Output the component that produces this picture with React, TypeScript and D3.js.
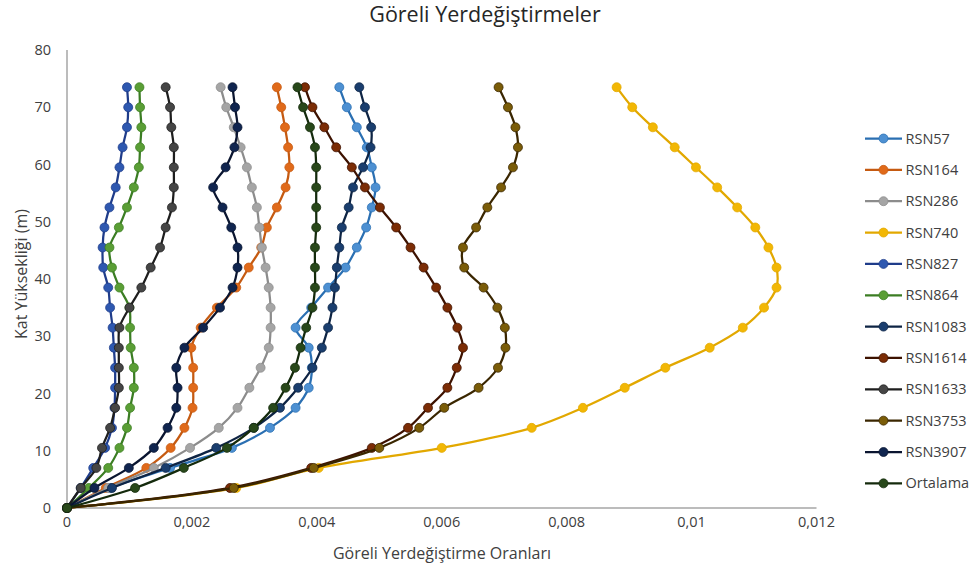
import React, { useEffect, useRef } from 'react';
import * as d3 from 'd3';

const heights = [0, 3.5, 7, 10.5, 14, 17.5, 21, 24.5, 28, 31.5, 35, 38.5, 42, 45.5, 49, 52.5, 56, 59.5, 63, 66.5, 70, 73.5];

const seriesNames = ['RSN57', 'RSN164', 'RSN286', 'RSN740', 'RSN827', 'RSN864', 'RSN1083', 'RSN1614', 'RSN1633', 'RSN3753', 'RSN3907', 'Ortalama'];

const rsn57 = [0, 0.00069, 0.00165, 0.00264, 0.00325, 0.00366, 0.00387, 0.00392, 0.00387, 0.00366, 0.00391, 0.00418, 0.00446, 0.00464, 0.00479, 0.00488, 0.00494, 0.00488, 0.00480, 0.00464, 0.00448, 0.00436];
const rsn164 = [0, 0.00062, 0.00127, 0.00166, 0.00188, 0.00201, 0.00202, 0.00202, 0.00199, 0.00214, 0.00240, 0.00271, 0.00291, 0.00311, 0.00320, 0.00336, 0.00350, 0.00356, 0.00354, 0.00349, 0.00343, 0.00336];
const rsn286 = [0, 0.00066, 0.00139, 0.00197, 0.00243, 0.00273, 0.00292, 0.00310, 0.00323, 0.00326, 0.00326, 0.00323, 0.00318, 0.00312, 0.00308, 0.00304, 0.00296, 0.00288, 0.00278, 0.00267, 0.00255, 0.00246];
const rsn740 = [0, 0.00271, 0.00403, 0.00600, 0.00744, 0.00826, 0.00893, 0.00958, 0.01029, 0.01082, 0.01116, 0.01136, 0.01136, 0.01123, 0.01102, 0.01073, 0.01041, 0.01007, 0.00973, 0.00938, 0.00905, 0.00880];
const rsn827 = [0, 0.00022, 0.00042, 0.00061, 0.00072, 0.00076, 0.00077, 0.00077, 0.00075, 0.00073, 0.00069, 0.00066, 0.00058, 0.00057, 0.00060, 0.00068, 0.00078, 0.00084, 0.00089, 0.00096, 0.00098, 0.00096];
const rsn864 = [0, 0.00035, 0.00066, 0.00084, 0.00096, 0.00101, 0.00107, 0.00107, 0.00102, 0.00101, 0.00100, 0.00084, 0.00072, 0.00068, 0.00083, 0.00096, 0.00107, 0.00115, 0.00117, 0.00119, 0.00117, 0.00116];
const rsn1083 = [0, 0.00072, 0.00158, 0.00239, 0.00299, 0.00341, 0.00370, 0.00393, 0.00408, 0.00418, 0.00425, 0.00429, 0.00432, 0.00436, 0.00440, 0.00451, 0.00458, 0.00474, 0.00486, 0.00487, 0.00477, 0.00468];
const rsn1614 = [0, 0.00261, 0.00391, 0.00488, 0.00546, 0.00578, 0.00609, 0.00624, 0.00634, 0.00625, 0.00609, 0.00591, 0.00571, 0.00550, 0.00527, 0.00501, 0.00477, 0.00456, 0.00431, 0.00412, 0.00393, 0.00381];
const rsn1633 = [0, 0.00022, 0.00047, 0.00056, 0.00069, 0.00077, 0.00083, 0.00083, 0.00083, 0.00084, 0.00100, 0.00119, 0.00134, 0.00149, 0.00158, 0.00168, 0.00171, 0.00171, 0.00171, 0.00167, 0.00165, 0.00158];
const rsn3753 = [0, 0.00267, 0.00395, 0.00500, 0.00564, 0.00604, 0.00659, 0.00690, 0.00702, 0.00701, 0.00689, 0.00667, 0.00636, 0.00634, 0.00655, 0.00673, 0.00695, 0.00714, 0.00722, 0.00718, 0.00706, 0.00691];
const rsn3907 = [0, 0.00044, 0.00099, 0.00139, 0.00161, 0.00175, 0.00177, 0.00175, 0.00188, 0.00218, 0.00245, 0.00265, 0.00273, 0.00273, 0.00263, 0.00249, 0.00234, 0.00254, 0.00268, 0.00273, 0.00269, 0.00265];
const ortalama = [0, 0.00109, 0.00187, 0.00256, 0.00299, 0.00330, 0.00350, 0.00365, 0.00374, 0.00383, 0.00393, 0.00397, 0.00397, 0.00397, 0.00399, 0.00399, 0.00399, 0.00399, 0.00397, 0.00389, 0.00378, 0.00369];

const seriesValues = [rsn57, rsn164, rsn286, rsn740, rsn827, rsn864, rsn1083, rsn1614, rsn1633, rsn3753, rsn3907, ortalama];

const lineColors = ['#2a6fb2', '#c55a11', '#8c8c8c', '#e2a800', '#1f3c8a', '#3b7d23', '#0e2444', '#3d1200', '#1e1e1e', '#3a2600', '#0a1530', '#142a0c'];
const markerColors = ['#4d90d2', '#e06a1a', '#a5a5a5', '#f2b705', '#2e58b0', '#5a9e35', '#1a3e6e', '#7b2c05', '#454545', '#7a5c08', '#10254f', '#28481a'];

const xTicks = [0, 0.002, 0.004, 0.006, 0.008, 0.01, 0.012];
const xTickLabels = ['0', '0,002', '0,004', '0,006', '0,008', '0,01', '0,012'];
const yTicks = [0, 10, 20, 30, 40, 50, 60, 70, 80];

const titleText = 'Göreli Yerdeğiştirmeler';
const xTitle = 'Göreli Yerdeğiştirme Oranları';
const yTitle = 'Kat Yüksekliği (m)';

export default function App() {
  const ref = useRef<SVGSVGElement>(null);

  useEffect(() => {
    const svg = d3.select(ref.current);
    svg.selectAll('*').remove();
    const font = "'Open Sans', 'DejaVu Sans', sans-serif";

    const x = d3.scaleLinear().domain([0, 0.012]).range([67, 816.5]);
    const y = d3.scaleLinear().domain([0, 80]).range([508, 50]);

    svg.append('rect').attr('width', 974).attr('height', 574).attr('fill', '#ffffff');

    // title
    svg.append('text')
      .attr('x', 485).attr('y', 22)
      .attr('text-anchor', 'middle')
      .attr('font-family', font).attr('font-size', 21.5)
      .attr('fill', '#262626')
      .text(titleText);

    // axes lines
    svg.append('line')
      .attr('x1', x(0)).attr('x2', x(0))
      .attr('y1', y(80)).attr('y2', y(0))
      .attr('stroke', '#a6a6a6').attr('stroke-width', 1.5);
    svg.append('line')
      .attr('x1', x(0)).attr('x2', x(0.012))
      .attr('y1', y(0)).attr('y2', y(0))
      .attr('stroke', '#a6a6a6').attr('stroke-width', 1.5);

    // y tick labels
    svg.append('g').selectAll('text').data(yTicks).join('text')
      .attr('x', 51).attr('y', (d) => y(d))
      .attr('dy', '0.35em')
      .attr('text-anchor', 'end')
      .attr('font-family', font).attr('font-size', 14.5)
      .attr('fill', '#404040')
      .text((d) => String(d));

    // x tick labels
    svg.append('g').selectAll('text').data(xTicks).join('text')
      .attr('x', (d) => x(d)).attr('y', 522)
      .attr('dy', '0.35em')
      .attr('text-anchor', 'middle')
      .attr('font-family', font).attr('font-size', 14.5)
      .attr('fill', '#404040')
      .text((d, i) => xTickLabels[i]);

    // axis titles
    svg.append('text')
      .attr('x', 442).attr('y', 553)
      .attr('dy', '0.35em')
      .attr('text-anchor', 'middle')
      .attr('font-family', font).attr('font-size', 16)
      .attr('fill', '#404040')
      .text(xTitle);
    svg.append('text')
      .attr('transform', 'translate(21,274) rotate(-90)')
      .attr('dy', '0.35em')
      .attr('text-anchor', 'middle')
      .attr('font-family', font).attr('font-size', 16)
      .attr('fill', '#404040')
      .text(yTitle);

    const line = d3.line<number>()
      .x((d) => x(d))
      .y((d, i) => y(heights[i]))
      .curve(d3.curveCatmullRom.alpha(0.5));

    const plot = svg.append('g');
    seriesValues.forEach((vals, si) => {
      const g = plot.append('g');
      g.append('path')
        .attr('d', line(vals) as string)
        .attr('fill', 'none')
        .attr('stroke', lineColors[si])
        .attr('stroke-width', 2.25)
        .attr('stroke-linejoin', 'round');
      g.selectAll('circle').data(vals).join('circle')
        .attr('cx', (d) => x(d))
        .attr('cy', (d, i) => y(heights[i]))
        .attr('r', 4.5)
        .attr('fill', markerColors[si])
        .attr('stroke', lineColors[si])
        .attr('stroke-width', 0.75);
    });

    // legend
    const lg = svg.append('g');
    seriesNames.forEach((name, i) => {
      const cy = 138.5 + i * 31.35;
      lg.append('line')
        .attr('x1', 865).attr('x2', 902)
        .attr('y1', cy).attr('y2', cy)
        .attr('stroke', lineColors[i]).attr('stroke-width', 2.25);
      lg.append('circle')
        .attr('cx', 883.5).attr('cy', cy).attr('r', 4.5)
        .attr('fill', markerColors[i])
        .attr('stroke', lineColors[i]).attr('stroke-width', 0.75);
      lg.append('text')
        .attr('x', 905.5).attr('y', cy)
        .attr('dy', '0.35em')
        .attr('font-family', font).attr('font-size', 14.5)
        .attr('fill', '#404040')
        .text(name);
    });
  }, []);

  return (
    <svg
      ref={ref}
      width={974}
      height={574}
      style={{ position: 'absolute', left: 0, top: 0, display: 'block' }}
    />
  );
}
